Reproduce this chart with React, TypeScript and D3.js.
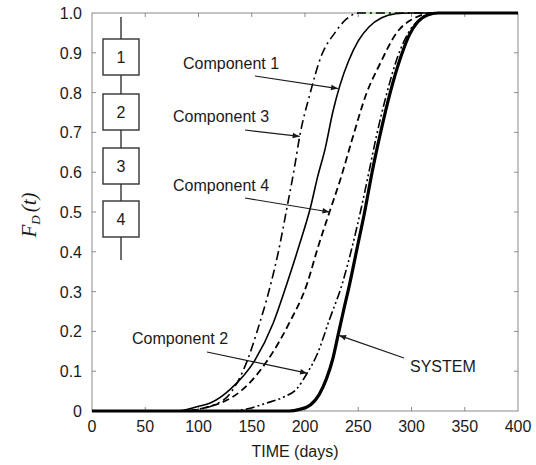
import React from 'react'
import * as d3 from 'd3'

// curves: [day, F_D(t)]
const component1 = [[0, 0], [80, 0], [100, 0.012], [111, 0.02], [130, 0.055], [153, 0.128], [170, 0.22], [183, 0.32], [195, 0.42], [205, 0.51], [212, 0.59], [219, 0.66], [226, 0.75], [233, 0.82], [241, 0.88], [250, 0.93], [260, 0.965], [272, 0.988], [285, 0.998], [298, 1], [400, 1]]
const component2 = [[0, 0], [130, 0], [145, 0.005], [164, 0.02], [180, 0.035], [192, 0.055], [202, 0.095], [211, 0.14], [223, 0.23], [235, 0.32], [245, 0.42], [252, 0.5], [260, 0.6], [267, 0.69], [276, 0.79], [287, 0.89], [297, 0.95], [308, 0.985], [320, 1], [400, 1]]
const component3 = [[0, 0], [80, 0], [100, 0.005], [115, 0.015], [130, 0.045], [146, 0.128], [155, 0.2], [167, 0.31], [175, 0.4], [183, 0.51], [190, 0.61], [195, 0.69], [205, 0.8], [215, 0.89], [228, 0.95], [239, 0.985], [250, 1], [400, 1]]
const component4 = [[0, 0], [90, 0], [108, 0.01], [125, 0.025], [141, 0.053], [165, 0.128], [185, 0.22], [202, 0.32], [212, 0.41], [223, 0.5], [233, 0.58], [244, 0.68], [258, 0.8], [270, 0.87], [286, 0.95], [305, 0.99], [320, 1], [400, 1]]
const system = [[0, 0], [185, 0], [195, 0.004], [205, 0.015], [213, 0.04], [220, 0.08], [226, 0.13], [231, 0.19], [236, 0.25], [242, 0.32], [249, 0.41], [256, 0.5], [263, 0.6], [271, 0.7], [280, 0.8], [290, 0.89], [298, 0.945], [306, 0.978], [315, 0.995], [325, 1], [400, 1]]
const greenTrace = [[254, 1], [317, 1]]

const xTicks = [0, 50, 100, 150, 200, 250, 300, 350, 400]
const yTicks = [0, 0.1, 0.2, 0.3, 0.4, 0.5, 0.6, 0.7, 0.8, 0.9, 1.0]
const blocks = ['1', '2', '3', '4']

// annotation: label, text anchor point and arrow target (data coords)
const notes = [
  { label: 'Component 1', tx: 183, ty: 69, ax: [255, 76], target: [231, 0.81] },
  { label: 'Component 3', tx: 173, ty: 122, ax: [245, 130], target: [195, 0.69] },
  { label: 'Component 4', tx: 173, ty: 191, ax: [245, 198], target: [223, 0.5] },
  { label: 'Component 2', tx: 132, ty: 344, ax: [207, 352], target: [202, 0.095] },
  { label: 'SYSTEM', tx: 410, ty: 372, ax: [404, 358], target: [232, 0.19] },
]

const W = 536
const H = 465
const left = 92
const right = 518
const top = 13
const bottom = 411
const font = 'Arial, "Liberation Sans", sans-serif'
const frameColor = '#8a8a8a'
const ink = '#1a1a1a'

export default function App() {
  const x = d3.scaleLinear().domain([0, 400]).range([left, right])
  const y = d3.scaleLinear().domain([0, 1]).range([bottom, top])
  const line = d3.line<number[]>()
    .x(d => x(d[0]))
    .y(d => y(d[1]))
    .curve(d3.curveMonotoneX)

  const series = [
    { data: component3, dash: '9,4,2,4', width: 1.6 },
    { data: component1, dash: null, width: 1.6 },
    { data: component4, dash: '7,4', width: 1.8 },
    { data: component2, dash: '9,3,2,3,2,3', width: 1.6 },
    { data: system, dash: null, width: 3.2 },
  ]

  const blockX = 103
  const blockW = 36
  const blockH = 36
  const blockTops = [39, 94, 148, 201]

  return (
    <svg width={W} height={H} style={{ position: 'absolute', left: 0, top: 0, background: '#fff' }}>
      <defs>
        <clipPath id="plot">
          <rect x={left} y={top - 3} width={right - left} height={bottom - top + 6} />
        </clipPath>
        <marker id="arrow" viewBox="0 0 10 10" refX="10" refY="5" markerWidth="9" markerHeight="7" orient="auto-start-reverse" markerUnits="userSpaceOnUse">
          <path d="M0,1 L10,5 L0,9 Z" fill={ink} />
        </marker>
      </defs>

      {/* frame */}
      <rect x={left} y={top} width={right - left} height={bottom - top} fill="none" stroke={frameColor} strokeWidth={1} />
      <path d={line(greenTrace) || ''} stroke="#b9e4b0" strokeWidth={2} fill="none" />

      {/* ticks */}
      {xTicks.slice(1, -1).map(t => (
        <g key={'xt' + t} stroke={frameColor}>
          <line x1={x(t)} x2={x(t)} y1={bottom} y2={bottom - 4} />
          <line x1={x(t)} x2={x(t)} y1={top} y2={top + 4} />
        </g>
      ))}
      {yTicks.slice(1, -1).map(t => (
        <g key={'yt' + t} stroke={frameColor}>
          <line x1={left} x2={left + 4} y1={y(t)} y2={y(t)} />
          <line x1={right} x2={right - 4} y1={y(t)} y2={y(t)} />
        </g>
      ))}

      {/* tick labels */}
      {xTicks.map(t => (
        <text key={'xl' + t} x={x(t)} y={bottom + 21} textAnchor="middle" fontFamily={font} fontSize={16} fill={ink}>{t}</text>
      ))}
      {yTicks.map(t => (
        <text key={'yl' + t} x={left - 10} y={y(t) + 6} textAnchor="end" fontFamily={font} fontSize={16} fill={ink}>{t === 0 ? '0' : t.toFixed(1)}</text>
      ))}

      {/* axis titles */}
      <text x={(left + right) / 2 - 10} y={457} textAnchor="middle" fontFamily={font} fontSize={16} fill={ink}>TIME (days)</text>
      <text transform={`translate(36,${215}) rotate(-90)`} textAnchor="middle" fontFamily='"Liberation Serif", "Times New Roman", serif' fontSize={21} fontStyle="italic" fill={ink}>
        F<tspan fontSize={13} dy={4}>D</tspan><tspan dy={-4} dx={3}>(</tspan>t<tspan>)</tspan>
      </text>

      {/* curves */}
      <g clipPath="url(#plot)">
        {series.map((s, i) => (
          <path key={i} d={line(s.data) || ''} fill="none" stroke="#000" strokeWidth={s.width} strokeDasharray={s.dash || undefined} strokeLinejoin="round" />
        ))}
      </g>

      {/* series block diagram */}
      <line x1={blockX + blockW / 2} x2={blockX + blockW / 2} y1={17} y2={260} stroke="#333" strokeWidth={1.4} />
      {blocks.map((b, i) => (
        <g key={'b' + b}>
          <rect x={blockX} y={blockTops[i]} width={blockW} height={blockH} fill="#fff" stroke="#333" strokeWidth={1.4} />
          <text x={blockX + blockW / 2} y={blockTops[i] + blockH / 2 + 6} textAnchor="middle" fontFamily={font} fontSize={16} fill={ink}>{b}</text>
        </g>
      ))}

      {/* annotations */}
      {notes.map(n => (
        <g key={n.label}>
          <text x={n.tx} y={n.ty} fontFamily={font} fontSize={16} fill={ink}>{n.label}</text>
          <line x1={n.ax[0]} y1={n.ax[1]} x2={x(n.target[0])} y2={y(n.target[1])} stroke={ink} strokeWidth={1.2} markerEnd="url(#arrow)" />
        </g>
      ))}
    </svg>
  )
}
